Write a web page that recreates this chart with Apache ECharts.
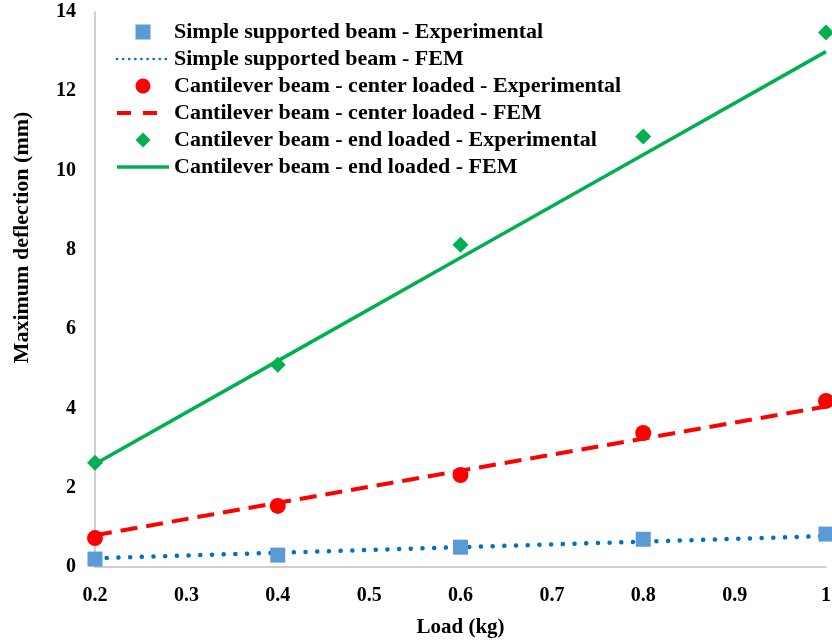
<!DOCTYPE html>
<html>
<head>
<meta charset="utf-8">
<script src="https://cdn.jsdelivr.net/npm/echarts@6/dist/echarts.min.js"></script>
<style>html,body{margin:0;padding:0;background:#fff}#c{width:832px;height:640px}</style>
</head>
<body>
<div id="c"></div>
<script>
const loads = [0.2, 0.4, 0.6, 0.8, 1.0];
const simpleExp = [0.2, 0.3, 0.5, 0.7, 0.83];
const simpleFem = [0.22, 0.36, 0.5, 0.64, 0.78];
const centerExp = [0.73, 1.54, 2.32, 3.38, 4.19];
const centerFem = [0.8, 1.62, 2.43, 3.24, 4.05];
const endExp = [2.63, 5.1, 8.13, 10.86, 13.48];
const endFem = [2.6, 5.2, 7.8, 10.4, 13.0];
const seriesNames = [
  'Simple supported beam - Experimental',
  'Simple supported beam - FEM',
  'Cantilever beam - center loaded - Experimental',
  'Cantilever beam - center loaded - FEM',
  'Cantilever beam - end loaded - Experimental',
  'Cantilever beam - end loaded - FEM'
];
const pairs = a => loads.map((x, i) => [x, a[i]]);
const FONT = '"Liberation Serif", "Times New Roman", serif';
const noSym = {color: 'rgba(0,0,0,0)', borderWidth: 0, opacity: 0};

const chart = echarts.init(document.getElementById('c'));
chart.setOption({
  animation: false,
  grid: {left: 95, right: 6, top: 12, bottom: 73, containLabel: false, outerBoundsMode: 'none'},
  legend: {
    orient: 'vertical', left: 110, top: 16,
    itemWidth: 52, itemHeight: 15, itemGap: 5,
    textStyle: {fontFamily: FONT, fontWeight: 'bold', fontSize: 22, color: '#000'},
    data: [
      {name: seriesNames[0], icon: 'path://M0,0L10,0L10,10L0,10Z'},
      {name: seriesNames[1], itemStyle: noSym,
       lineStyle: {color: '#0070C0', width: 2.6, type: [0.1, 6], cap: 'round'}},
      {name: seriesNames[2], icon: 'circle'},
      {name: seriesNames[3], itemStyle: noSym,
       lineStyle: {color: '#FF0000', width: 4, type: [14, 12], cap: 'butt'}},
      {name: seriesNames[4], icon: 'path://M5,0L10,5L5,10L0,5Z'},
      {name: seriesNames[5], itemStyle: noSym,
       lineStyle: {color: '#00B050', width: 3.5, type: 'solid'}}
    ]
  },
  xAxis: {
    type: 'value', min: 0.2, max: 1, interval: 0.1,
    name: 'Load (kg)', nameLocation: 'middle', nameGap: 50,
    nameTextStyle: {fontFamily: FONT, fontWeight: 'bold', fontSize: 21, color: '#000'},
    axisLine: {lineStyle: {color: '#bfbfbf', width: 1.5}},
    axisTick: {show: false}, splitLine: {show: false},
    axisLabel: {fontFamily: FONT, fontWeight: 'bold', fontSize: 20, color: '#000', margin: 19,
      formatter: v => (Math.abs(v - 1) < 1e-9 ? '1' : v.toFixed(1))}
  },
  yAxis: {
    type: 'value', min: 0, max: 14, interval: 2,
    name: 'Maximum deflection (mm)', nameLocation: 'middle', nameGap: 62, nameRotate: 90,
    nameTextStyle: {fontFamily: FONT, fontWeight: 'bold', fontSize: 22, color: '#000', padding: [0, 0, 0, 104]},
    axisLine: {show: true, lineStyle: {color: '#bfbfbf', width: 1.5}},
    axisTick: {show: false}, splitLine: {show: false},
    axisLabel: {fontFamily: FONT, fontWeight: 'bold', fontSize: 20, color: '#000', margin: 19}
  },
  series: [
    {name: seriesNames[1], type: 'line', data: pairs(simpleFem), symbol: 'none', z: 2,
     itemStyle: {color: '#0070C0'},
     lineStyle: {color: '#0070C0', width: 4.5, type: [0.1, 11.6], cap: 'round'}},
    {name: seriesNames[3], type: 'line', data: pairs(centerFem), symbol: 'none', z: 2,
     itemStyle: {color: '#FF0000'},
     lineStyle: {color: '#FF0000', width: 4, type: [17, 9], cap: 'butt'}},
    {name: seriesNames[5], type: 'line', data: pairs(endFem), symbol: 'none', z: 2,
     itemStyle: {color: '#00B050'},
     lineStyle: {color: '#00B050', width: 3.5, type: 'solid'}},
    {name: seriesNames[0], type: 'scatter', data: pairs(simpleExp), symbol: 'rect', symbolSize: 15, z: 3,
     itemStyle: {color: '#5B9BD5', opacity: 1}},
    {name: seriesNames[2], type: 'scatter', data: pairs(centerExp), symbol: 'circle', symbolSize: 16, z: 3,
     itemStyle: {color: '#FF0000', opacity: 1}},
    {name: seriesNames[4], type: 'scatter', data: pairs(endExp), symbol: 'diamond', symbolSize: 16, z: 3,
     itemStyle: {color: '#00B050', opacity: 1}}
  ]
});
</script>
</body>
</html>
